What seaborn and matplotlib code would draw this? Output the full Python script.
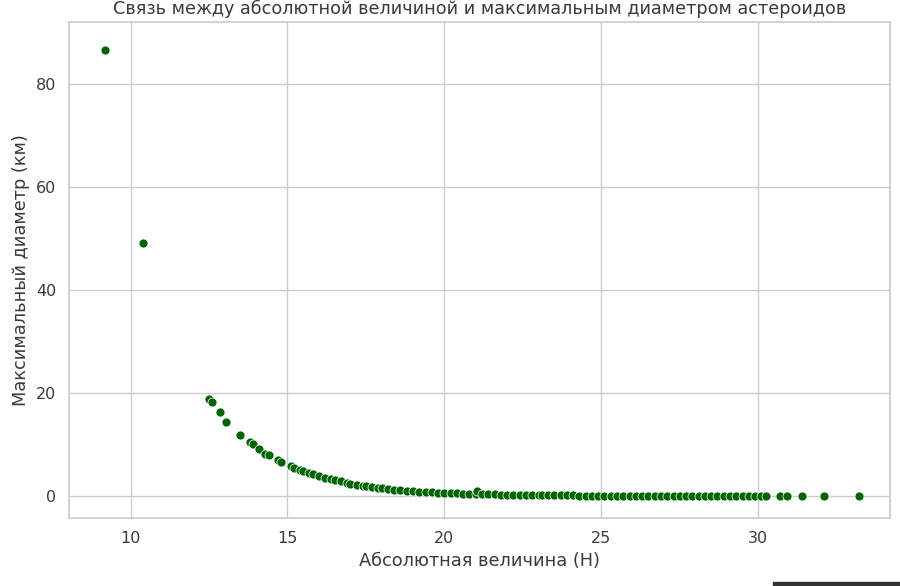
import numpy as np
import pandas as pd
import matplotlib
matplotlib.use("Agg")
import matplotlib.pyplot as plt
import seaborn as sns

# absolute magnitude H and estimated max diameter (km)
h_mag = [9.2, 10.4, 12.5, 12.6, 12.85, 13.05, 13.5, 13.8, 13.9, 14.1, 14.3, 14.4,
         14.7, 14.8, 15.1, 15.2, 15.4, 15.5, 15.7, 15.8, 16.0, 16.2, 16.4, 16.5,
         16.7, 16.9, 17.0, 17.2, 17.4, 17.5, 17.7, 17.9, 18.0, 18.2, 18.4, 18.6,
         18.8, 19.0, 19.2, 19.4, 19.6, 19.8, 20.0, 20.2, 20.4, 20.6, 20.8, 21.0,
         21.05, 21.2, 21.4, 21.6, 21.8, 22.0, 22.2, 22.4, 22.6, 22.8, 23.0, 23.1,
         23.3, 23.5, 23.7, 23.9, 24.1, 24.3, 24.5, 24.7, 24.9, 25.1, 25.3, 25.5,
         25.7, 25.9, 26.1, 26.3, 26.5, 26.7, 26.9, 27.1, 27.3, 27.5, 27.7, 27.9,
         28.1, 28.3, 28.5, 28.7, 28.9, 29.1, 29.3, 29.5, 29.7, 29.9, 30.1, 30.25,
         30.7, 30.9, 31.4, 32.1, 33.2]
diam_km = [86.7, 49.2, 18.8, 18.2, 16.3, 14.4, 11.8, 10.5, 10.0, 9.2, 8.2, 7.9,
           7.0, 6.6, 5.8, 5.5, 5.0, 4.8, 4.4, 4.2, 3.8, 3.5, 3.2, 3.0,
           2.8, 2.5, 2.4, 2.2, 2.0, 1.9, 1.7, 1.6, 1.5, 1.4, 1.2, 1.1,
           1.0, 0.95, 0.85, 0.78, 0.7, 0.65, 0.6, 0.55, 0.5, 0.45, 0.42, 0.38,
           0.9, 0.35, 0.32, 0.29, 0.26, 0.24, 0.22, 0.2, 0.18, 0.16, 0.15, 0.14,
           0.12, 0.11, 0.1, 0.09, 0.08, 0.075, 0.07, 0.06, 0.055, 0.05, 0.045, 0.04,
           0.037, 0.033, 0.03, 0.028, 0.025, 0.023, 0.02, 0.018, 0.017, 0.015, 0.014, 0.012,
           0.011, 0.01, 0.009, 0.008, 0.008, 0.007, 0.006, 0.006, 0.005, 0.005, 0.004, 0.004,
           0.003, 0.003, 0.003, 0.002, 0.001]

df = pd.DataFrame({"H": h_mag, "D": diam_km})

sns.set_theme(style="whitegrid")
plt.rcParams['font.family'] = ['DejaVu Sans']
text_col = "#3a3a3a"

fig = plt.figure(figsize=(9, 5.86), dpi=100)
ax = fig.add_axes([0.077, 0.116, 0.912, 0.846])
sns.scatterplot(data=df, x="H", y="D", color="darkgreen", s=42, ax=ax)
ax.set_title("Связь между абсолютной величиной и максимальным диаметром астероидов",
             fontsize=12.7, color=text_col)
ax.set_xlabel("Абсолютная величина (H)", fontsize=12.8, color=text_col)
ax.set_ylabel("Максимальный диаметр (км)", fontsize=12.8, color=text_col)
ax.tick_params(labelsize=11.5, labelcolor=text_col)
ax.set_xlim(8.05, 34.2)
ax.set_ylim(-4.3, 92)

# dark strip at bottom right of the screenshot
fig.patches.append(plt.Rectangle((0.859, 0.0), 0.141, 0.006, transform=fig.transFigure,
                                 color="#333333", figure=fig))

fig.savefig("out.png", dpi=100)
